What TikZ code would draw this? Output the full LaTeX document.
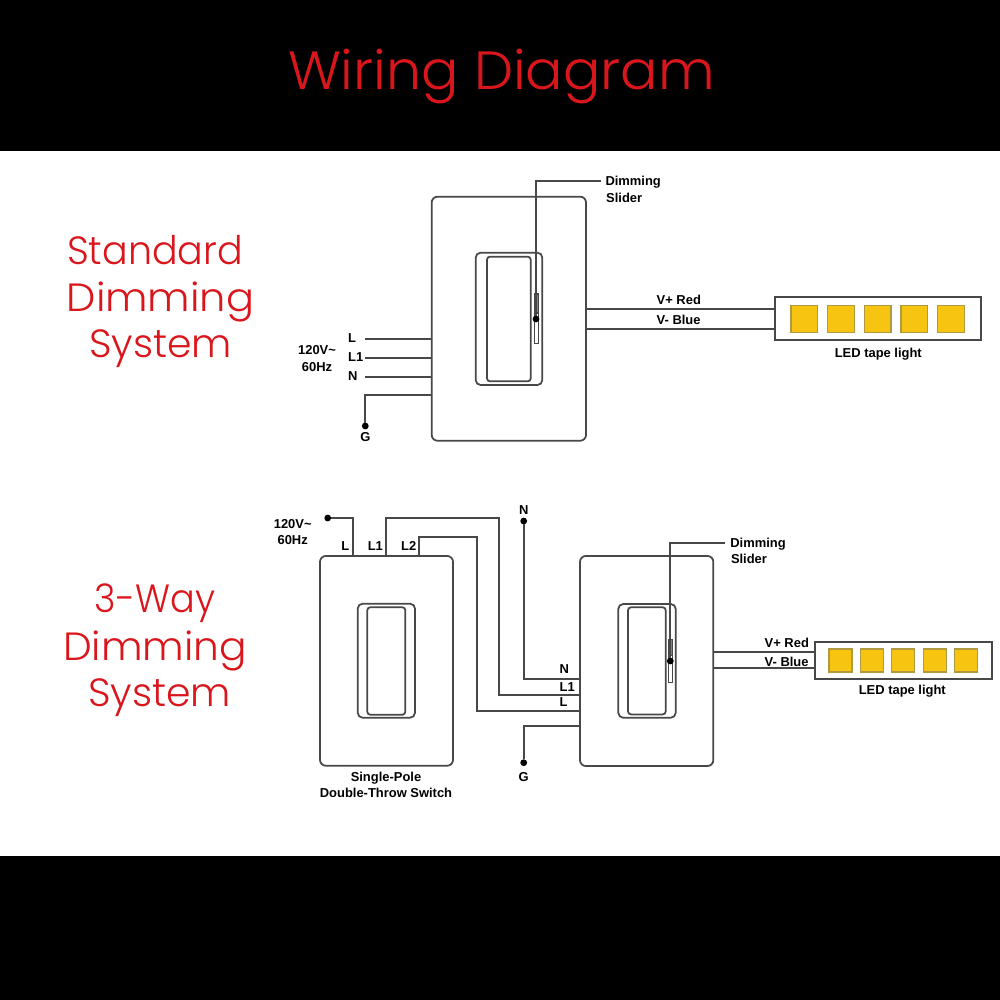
\documentclass[tikz,border=0pt]{standalone}
\usepackage{xcolor}
\usepackage{fontspec}
\usepackage{tikz}
\setmainfont{Liberation Sans}
\newfontfamily\headfont{Poppins Light}
\definecolor{wirered}{HTML}{DA161C}
\definecolor{wiregray}{HTML}{484848}
\definecolor{ledyellow}{HTML}{F7C511}
\definecolor{ledborder}{HTML}{B09A40}
\tikzset{
    band/.style={fill=black, draw=none},
    headline/.style={font=\headfont\addfontfeature{FakeStretch=1.03}\fontsize{15.3pt}{18pt}\selectfont, text=wirered, inner sep=0pt, anchor=base},
    sideline/.style={font=\headfont\fontsize{11.2pt}{13pt}\selectfont, text=wirered, inner sep=0pt, anchor=base},
    lbl/.style={font=\bfseries\fontsize{3.68pt}{4.3pt}\selectfont, text=black, inner sep=0pt, text height=0.09cm, text depth=0cm},
    plate/.style={draw=wiregray, fill=white, line width=0.5pt, rounded corners=0.06cm, inner sep=0pt, outer sep=0pt},
    bezel/.style={draw=wiregray, line width=0.5pt, rounded corners=0.05cm, inner sep=0pt, outer sep=0pt},
    rocker/.style={draw=wiregray, line width=0.5pt, rounded corners=0.03cm, inner sep=0pt, outer sep=0pt},
    slidebar/.style={draw=wiregray, fill=white, line width=0.35pt, inner sep=0pt, outer sep=0pt},
    tape/.style={draw=wiregray, fill=white, line width=0.5pt, inner sep=0pt, outer sep=0pt},
    led/.style={draw=ledborder, fill=ledyellow, line width=0.3pt, inner sep=0pt, outer sep=0pt},
    dot/.style={circle, fill=black, inner sep=0pt, outer sep=0pt, minimum size=0.068cm},
    wire/.style={draw=wiregray, line width=0.5pt},
}
\begin{document}
\begin{tikzpicture}[x=0.01cm, y=-0.01cm]
    \useasboundingbox (0,0) rectangle (1000,1000);
    \fill[white] (0,0) rectangle (1000,1000);

    % Black bands and headings
    \node[band, minimum width=10.04cm, minimum height=1.52cm, anchor=north west] (top_band) at (-2,-2) {};
    \node[band, minimum width=10.04cm, minimum height=1.47cm, anchor=north west] (bottom_band) at (-2,855) {};
    \node[headline] (title) at (501.4,89.3) {Wiring Diagram};
    \node[sideline] (std_1) at (155,264.3) {\addfontfeature{FakeStretch=0.965}Standard};
    \node[sideline] (std_2) at (160.5,311.7) {\addfontfeature{FakeStretch=1.055}Dimming};
    \node[sideline] (std_3) at (160.8,357.3) {System};
    \node[sideline] (way_1) at (155,612.3) {\addfontfeature{FakeStretch=0.93}3-Way};
    \node[sideline] (way_2) at (155,660) {\addfontfeature{FakeStretch=1.033}Dimming};
    \node[sideline] (way_3) at (159.7,706.7) {System};

    % Standard dimmer
    \node[plate, minimum width=1.543cm, minimum height=2.44cm] (plate_a) at (508.85,318.7) {};
    \node[bezel, minimum width=0.666cm, minimum height=1.323cm] (bezel_a) at (509,318.85) {};
    \node[rocker, minimum width=0.437cm, minimum height=1.246cm] (rocker_a) at (508.85,319) {};
    \node[slidebar, minimum width=0.044cm, minimum height=0.493cm] (slider_a) at (536.5,318.65) {};
    \node[slidebar, fill=gray, minimum width=0.044cm, minimum height=0.19cm] (grip_a) at (536.5,303.5) {};
    \node[dot] (dot_a) at (536,319) {};
    \node[lbl, anchor=west, outer sep=0.05cm] (dimming_a) at (600.5,181.3) {Dimming};
    \node[lbl, anchor=west] (sliderlbl_a) at (605.5,198) {Slider};

    % Standard mains side
    \coordinate (w_l) at (365.3,339.3);
    \coordinate (w_l1) at (365.3,357.7);
    \coordinate (w_n) at (365.3,376.7);
    \coordinate (w_g) at (431.7,395);
    \node[dot] (dot_g) at (365.3,426) {};
    \node[lbl, anchor=west] (lbl_l) at (347.5,338) {L};
    \node[lbl, anchor=west] (lbl_l1) at (347.5,357) {L1};
    \node[lbl, anchor=west] (lbl_n) at (347.5,376) {N};
    \node[lbl] (lbl_g) at (365.3,437) {G};
    \node[lbl] (volt_a) at (317,350) {120V\textasciitilde};
    \node[lbl] (hz_a) at (317,366.7) {60Hz};

    \draw[wire] (dot_a) |- (dimming_a.west);
    \draw[wire] (w_l) -- (w_l -| plate_a.west);
    \draw[wire] (w_l1) -- (w_l1 -| plate_a.west);
    \draw[wire] (w_n) -- (w_n -| plate_a.west);
    \draw[wire] (w_g) -| (dot_g);

    % Standard LED tape
    \node[tape, minimum width=2.057cm, minimum height=0.433cm] (tape_a) at (877.85,318.65) {};
    \foreach \i/\xpos in {1/804.3, 2/841, 3/877.7, 4/914.3, 5/950.9} {
        \node[led, minimum size=0.266cm] (led_a\i) at (\xpos,319) {};
    }
    \coordinate (w_vp) at (586,309);
    \coordinate (w_vm) at (586,328.7);
    \draw[wire] (w_vp) -- (w_vp -| tape_a.west);
    \draw[wire] (w_vm) -- (w_vm -| tape_a.west);
    \node[lbl, anchor=west] (vp_a) at (656,300) {V+ Red};
    \node[lbl, anchor=west] (vm_a) at (656,320) {V- Blue};
    \node[lbl] (tapelbl_a) at (878.3,352.7) {LED tape light};

    % Three way switch
    \node[plate, minimum width=1.33cm, minimum height=2.097cm] (plate_b) at (386.5,660.85) {};
    \node[bezel, minimum width=0.573cm, minimum height=1.14cm] (bezel_b) at (386.35,660.7) {};
    \node[rocker, minimum width=0.38cm, minimum height=1.074cm] (rocker_b) at (386.3,661) {};
    \node[lbl] (sw_1) at (386,777) {Single-Pole};
    \node[lbl] (sw_2) at (386,792.7) {Double-Throw Switch};

    % Three way dimmer
    \node[plate, minimum width=1.333cm, minimum height=2.1cm] (plate_c) at (646.65,661) {};
    \node[bezel, minimum width=0.574cm, minimum height=1.137cm] (bezel_c) at (647,660.85) {};
    \node[rocker, minimum width=0.377cm, minimum height=1.07cm] (rocker_c) at (646.85,660.85) {};
    \node[slidebar, minimum width=0.04cm, minimum height=0.43cm] (slider_c) at (670.3,660.8) {};
    \node[slidebar, fill=gray, minimum width=0.04cm, minimum height=0.16cm] (grip_c) at (670.3,647.3) {};
    \node[dot] (dot_c) at (670.3,661) {};
    \node[lbl, anchor=west, outer sep=0.05cm] (dimming_c) at (725.3,543.3) {Dimming};
    \node[lbl, anchor=west] (sliderlbl_c) at (730.3,559.3) {Slider};
    \draw[wire] (dot_c) |- (dimming_c.west);

    % Three way wiring
    \node[dot] (dot_feed) at (327.7,518) {};
    \node[dot] (dot_n) at (523.7,521) {};
    \node[dot] (dot_g2) at (523.7,762.7) {};
    \coordinate (t_l) at (353,556);
    \coordinate (t_l1) at (386,556);
    \coordinate (t_l2) at (419,556);
    \coordinate (r_n) at (580,678.7);
    \coordinate (r_l1) at (580,694.7);
    \coordinate (r_l) at (580,710.7);
    \coordinate (r_g) at (580,726);
    \draw[wire] (dot_feed) -| (t_l);
    \draw[wire] (t_l1) |- (499,518) |- (r_l1);
    \draw[wire] (t_l2) |- (476.7,537) |- (r_l);
    \draw[wire] (dot_n) |- (r_n);
    \draw[wire] (r_g) -| (dot_g2);
    \node[lbl] (volt_b) at (292.7,524) {120V\textasciitilde};
    \node[lbl] (hz_b) at (292.7,539.7) {60Hz};
    \node[lbl] (t_lbl_l) at (345.3,545.7) {L};
    \node[lbl] (t_lbl_l1) at (375.3,545.7) {L1};
    \node[lbl] (t_lbl_l2) at (408.7,545.7) {L2};
    \node[lbl] (lbl_n2) at (523.7,510) {N};
    \node[lbl] (lbl_g2) at (523.7,776.7) {G};
    \node[lbl, anchor=west] (r_lbl_n) at (559,669.3) {N};
    \node[lbl, anchor=west] (r_lbl_l1) at (559,686.7) {L1};
    \node[lbl, anchor=west] (r_lbl_l) at (559,702.3) {L};

    % Three way LED tape
    \node[tape, minimum width=1.767cm, minimum height=0.373cm] (tape_c) at (903.65,660.35) {};
    \foreach \i/\xpos in {1/840.5, 2/871.8, 3/903.2, 4/934.8, 5/966.2} {
        \node[led, minimum size=0.23cm] (led_c\i) at (\xpos,660.5) {};
    }
    \coordinate (c_vp) at (713.3,652);
    \coordinate (c_vm) at (713.3,668.3);
    \draw[wire] (c_vp) -- (c_vp -| tape_c.west);
    \draw[wire] (c_vm) -- (c_vm -| tape_c.west);
    \node[lbl, anchor=west] (vp_c) at (764,643) {V+ Red};
    \node[lbl, anchor=west] (vm_c) at (764,661.7) {V- Blue};
    \node[lbl] (tapelbl_c) at (902.3,689.7) {LED tape light};
\end{tikzpicture}
\end{document}
